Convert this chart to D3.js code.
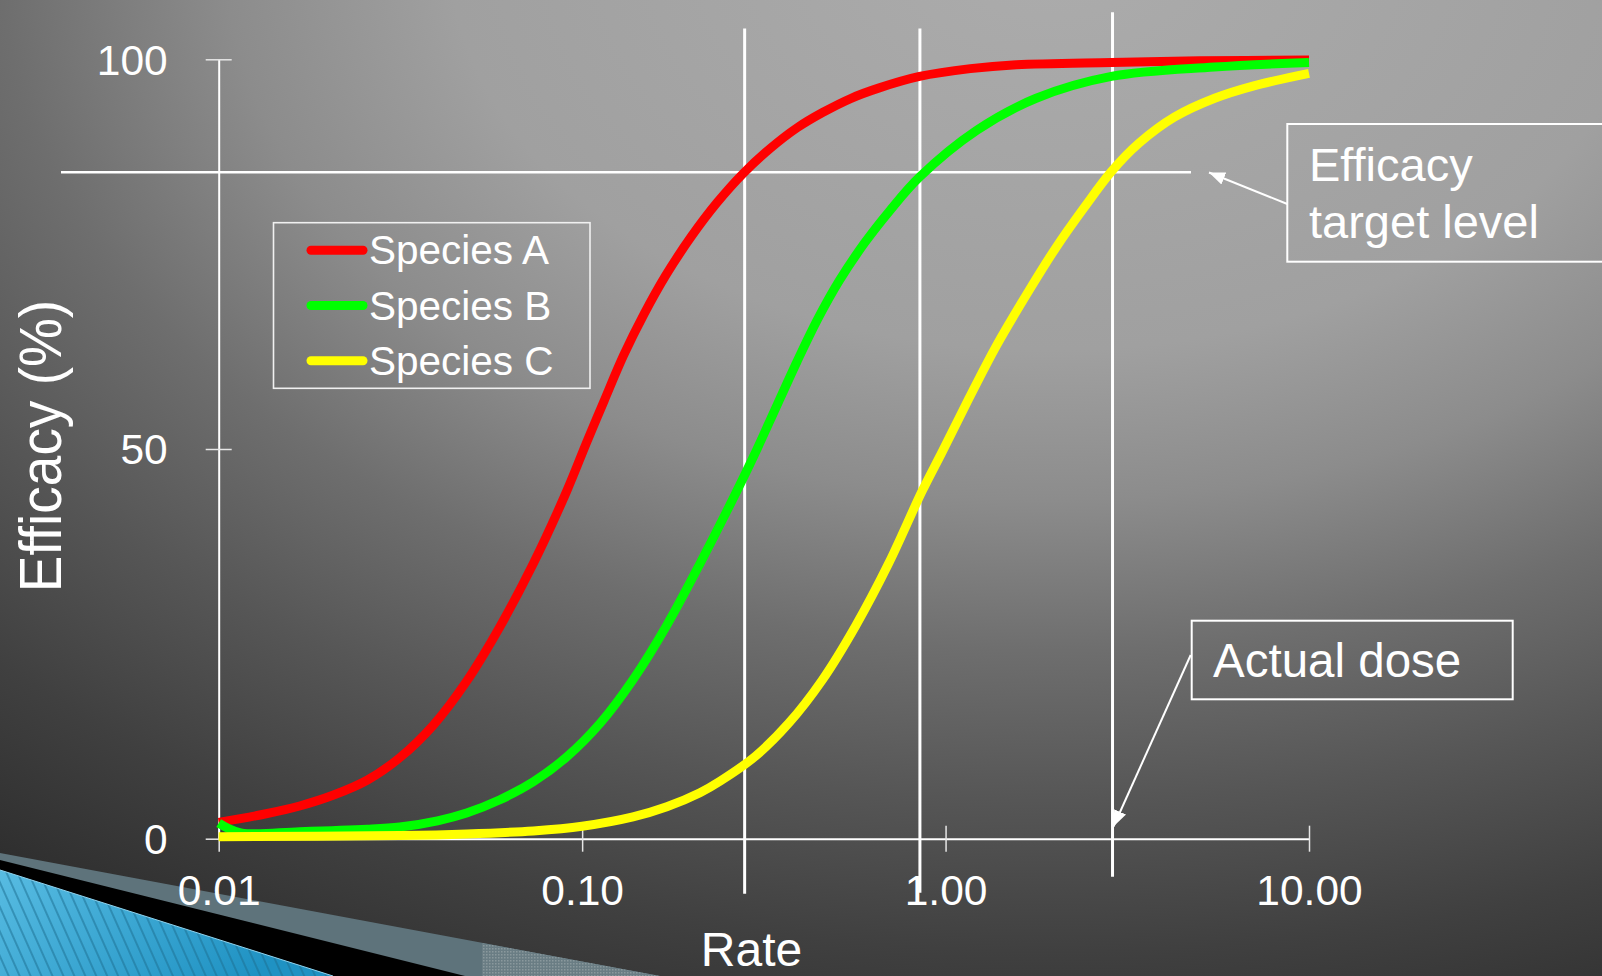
<!DOCTYPE html>
<html>
<head>
<meta charset="utf-8">
<script src="https://cdn.jsdelivr.net/npm/d3@7"></script>
<style>
  html, body { margin: 0; padding: 0; overflow: hidden; background: #333; }
  svg { display: block; }
</style>
</head>
<body>
<svg id="chart" width="1602" height="976"></svg>
<script>
// ---- data ----
const seriesNames = ["Species A", "Species B", "Species C"];
const seriesColors = ["#ff0000", "#00ff00", "#ffff00"];

const rateA = [0.01, 0.0135, 0.0167, 0.0207, 0.0256, 0.0315, 0.039, 0.0481, 0.0594, 0.0734, 0.0907, 0.103, 0.115, 0.13, 0.148, 0.17, 0.2, 0.235, 0.278, 0.33, 0.39, 0.46, 0.55, 0.654, 0.848, 1.17, 1.566, 2.86, 5, 10];
const effA  = [2.1, 3.2, 4.2, 5.6, 7.5, 10.4, 14.6, 20.2, 27.2, 35.3, 44.6, 50.9, 56.2, 62.0, 67.3, 72.3, 77.3, 81.6, 85.4, 88.6, 91.2, 93.2, 95.0, 96.3, 97.8, 98.8, 99.3, 99.6, 99.8, 99.9];

const rateB = [0.01, 0.0115, 0.0167, 0.0256, 0.0315, 0.04, 0.0481, 0.0594, 0.0734, 0.0907, 0.112, 0.138, 0.171, 0.211, 0.25, 0.296, 0.33, 0.39, 0.444, 0.51, 0.6, 0.7, 0.848, 1.219, 1.776, 2.86, 5.48, 10];
const effB  = [2.0, 0.75, 0.9, 1.2, 1.5, 2.3, 3.3, 5.0, 7.3, 10.5, 14.8, 20.4, 27.4, 35.3, 42.0, 49.0, 53.8, 61.2, 66.6, 71.6, 76.5, 80.5, 84.9, 90.9, 95.0, 97.8, 99.0, 99.6];

const rateC = [0.01, 0.0315, 0.0481, 0.0734, 0.1, 0.138, 0.171, 0.211, 0.24, 0.3, 0.37, 0.457, 0.564, 0.697, 0.862, 0.978, 1.16, 1.382, 1.7, 2.01, 2.4, 2.86, 3.4, 4.27, 5.5, 7.05, 10];
const effC  = [0.25, 0.4, 0.6, 1.0, 1.6, 2.8, 4.1, 5.9, 7.4, 10.6, 14.8, 20.3, 27.2, 35.3, 44.6, 49.6, 56.5, 63.3, 70.4, 75.8, 80.9, 85.6, 89.2, 92.6, 95.0, 96.6, 98.2];

const xTicks = [0.01, 0.1, 1, 10];
const xTickLabels = ["0.01", "0.10", "1.00", "10.00"];
const yTicks = [0, 50, 100];
const yTickLabels = ["0", "50", "100"];

const targetLevel = 85.5;          // efficacy target (%)
const targetRates = [0.28, 0.85];  // rates where A and B reach the target
const actualDose = 2.88;           // dose actually applied

const xTitle = "Rate";
const yTitle = "Efficacy (%)";
const targetNote = ["Efficacy", "target level"];
const doseNote = "Actual dose";

// ---- setup ----
const FONT = "'Liberation Sans', Arial, Helvetica, sans-serif";
const W = 1602, H = 976;
const svg = d3.select("#chart");
const defs = svg.append("defs");

const x = d3.scaleLog().domain([0.01, 10]).range([218.7, 1309]);
const y = d3.scaleLinear().domain([0, 100]).range([838.7, 59.3]);

// ---- slide background ----
const bg = defs.append("radialGradient")
  .attr("id", "bgGrad")
  .attr("gradientUnits", "userSpaceOnUse")
  .attr("cx", 1050).attr("cy", -50).attr("r", 1725)
  .attr("gradientTransform", "translate(1050,-50) scale(1,0.667) translate(-1050,50)");
[[0, 172], [0.348, 160], [0.478, 140], [0.609, 110], [0.739, 86], [0.87, 64], [1, 46]]
  .forEach(([o, v]) => bg.append("stop").attr("offset", o).attr("stop-color", d3.rgb(v, v, v)));
svg.append("rect").attr("width", W).attr("height", H).attr("fill", "url(#bgGrad)");

// corner ornament: slate band, black shadow, striped blue wedge
const blueGrad = defs.append("linearGradient").attr("id", "blueGrad")
  .attr("x1", 0).attr("y1", 0).attr("x2", 1).attr("y2", 0.4);
blueGrad.append("stop").attr("offset", 0).attr("stop-color", "#58bce2");
blueGrad.append("stop").attr("offset", 1).attr("stop-color", "#1f92c3");

const stripes = defs.append("pattern").attr("id", "stripes")
  .attr("patternUnits", "userSpaceOnUse").attr("width", 10).attr("height", 10)
  .attr("patternTransform", "rotate(-24)");
stripes.append("line").attr("x1", 1).attr("y1", 0).attr("x2", 1).attr("y2", 10)
  .attr("stroke", "#1d6f92").attr("stroke-width", 1.3).attr("stroke-opacity", 0.8);

const dots = defs.append("pattern").attr("id", "dots")
  .attr("patternUnits", "userSpaceOnUse").attr("width", 3).attr("height", 3);
dots.append("rect").attr("width", 3).attr("height", 3).attr("fill", "#6a7d84");
dots.append("rect").attr("width", 1.5).attr("height", 1.5).attr("fill", "#8a989d");

const deco = svg.append("g");
deco.append("polygon").attr("points", "0,853 660,976 0,976").attr("fill", "#5e737b");
deco.append("polygon").attr("points", "482,943 660,976 482,976").attr("fill", "url(#dots)");
deco.append("polygon").attr("points", "0,860 465,976 0,976").attr("fill", "#000");
deco.append("polygon").attr("points", "0,870 333,976 0,976").attr("fill", "url(#blueGrad)");
deco.append("polygon").attr("points", "0,870 333,976 0,976").attr("fill", "url(#stripes)");
deco.append("line").attr("x1", 0).attr("y1", 870).attr("x2", 333).attr("y2", 976)
  .attr("stroke", "#8fd3ee").attr("stroke-width", 1);

// ---- reference lines ----
const ref = svg.append("g").attr("stroke", "#fff");
ref.append("line")
  .attr("x1", 61).attr("x2", 1191)
  .attr("y1", y(targetLevel)).attr("y2", y(targetLevel))
  .attr("stroke-width", 2.6);
ref.selectAll("line.rate").data(targetRates).join("line").attr("class", "rate")
  .attr("x1", d => x(d)).attr("x2", d => x(d))
  .attr("y1", y(100) - 30.7).attr("y2", (d, i) => y(0) + (i === 0 ? 55 : 54))
  .attr("stroke-width", 3);
ref.append("line")
  .attr("x1", x(actualDose)).attr("x2", x(actualDose))
  .attr("y1", y(100) - 47).attr("y2", y(0) + 38)
  .attr("stroke-width", 3);

// ---- axes ----
const xAxis = d3.axisBottom(x).tickValues(xTicks)
  .tickFormat((d, i) => xTickLabels[i]).tickSizeInner(13).tickSizeOuter(0);
const gx = svg.append("g").attr("transform", `translate(0,${y(0)})`).call(xAxis);
gx.select(".domain").attr("stroke", "#fff").attr("stroke-width", 2);
gx.selectAll(".tick line").attr("stroke", "#e6e6e6").attr("stroke-width", 1.5).attr("y1", -13).attr("y2", 13);
gx.selectAll(".tick text").attr("fill", "#fff").attr("y", 66).attr("dy", 0)
  .attr("font-family", FONT).attr("font-size", 42.5);

const yAxis = d3.axisLeft(y).tickValues(yTicks)
  .tickFormat((d, i) => yTickLabels[i]).tickSizeInner(13).tickSizeOuter(0);
const gy = svg.append("g").attr("transform", `translate(${x(0.01)},0)`).call(yAxis);
gy.select(".domain").attr("stroke", "#fff").attr("stroke-width", 2);
gy.selectAll(".tick line").attr("stroke", "#e6e6e6").attr("stroke-width", 1.5).attr("x1", 13).attr("x2", -13);
gy.selectAll(".tick text").attr("fill", "#fff").attr("x", -51).attr("dy", "0.35em")
  .attr("font-family", FONT).attr("font-size", 42.5);

// ---- dose-response curves ----
const series = [
  { rates: rateA, values: effA },
  { rates: rateB, values: effB },
  { rates: rateC, values: effC }
];
const line = d3.line().x(d => x(d[0])).y(d => y(d[1])).curve(d3.curveCatmullRom.alpha(0.5));
svg.append("g").selectAll("path").data(series).join("path")
  .attr("d", s => line(s.rates.map((r, i) => [r, s.values[i]])))
  .attr("fill", "none")
  .attr("stroke", (s, i) => seriesColors[i])
  .attr("stroke-width", 9)
  .attr("stroke-linejoin", "miter")
  .attr("stroke-linecap", "butt");

// ---- legend ----
const legend = svg.append("g");
legend.append("rect").attr("x", 273.5).attr("y", 222.7).attr("width", 316.5).attr("height", 165.6)
  .attr("fill", "none").attr("stroke", "#f0f0f0").attr("stroke-width", 1.6);
const items = legend.selectAll("g.item").data(seriesNames).join("g").attr("class", "item")
  .attr("transform", (d, i) => `translate(0,${250.3 + i * 55.2})`);
items.append("line").attr("x1", 311).attr("x2", 363).attr("y1", 0).attr("y2", 0)
  .attr("stroke", (d, i) => seriesColors[i]).attr("stroke-width", 9).attr("stroke-linecap", "round");
items.append("text").attr("x", 369).attr("y", 0).attr("dy", "0.35em")
  .attr("fill", "#fff").attr("font-family", FONT).attr("font-size", 40.5).text(d => d);

// ---- annotations ----
defs.append("marker").attr("id", "arrow")
  .attr("markerUnits", "userSpaceOnUse").attr("markerWidth", 18).attr("markerHeight", 14)
  .attr("refX", 16).attr("refY", 6.5).attr("orient", "auto")
  .append("path").attr("d", "M0,0 L16,6.5 L0,13 Z").attr("fill", "#fff");

const note1 = svg.append("g");
note1.append("rect").attr("x", 1287.3).attr("y", 124).attr("width", 340).attr("height", 137.7)
  .attr("fill", "none").attr("stroke", "#fff").attr("stroke-width", 2);
note1.selectAll("text").data(targetNote).join("text")
  .attr("x", 1309).attr("y", (d, i) => 181 + i * 57)
  .attr("fill", "#fff").attr("font-family", FONT).attr("font-size", 47).text(d => d);
note1.append("line").attr("x1", 1287.3).attr("y1", 204).attr("x2", 1209).attr("y2", 172.5)
  .attr("stroke", "#fff").attr("stroke-width", 2).attr("marker-end", "url(#arrow)");

const note2 = svg.append("g");
note2.append("rect").attr("x", 1191.7).attr("y", 620.7).attr("width", 321).attr("height", 78.6)
  .attr("fill", "none").attr("stroke", "#fff").attr("stroke-width", 2);
note2.append("text").attr("x", 1213).attr("y", 677.3)
  .attr("fill", "#fff").attr("font-family", FONT).attr("font-size", 47.5).text(doseNote);
note2.append("line").attr("x1", 1190.7).attr("y1", 655).attr("x2", 1113.5).attr("y2", 826.5)
  .attr("stroke", "#fff").attr("stroke-width", 2).attr("marker-end", "url(#arrow)");

// ---- axis titles ----
svg.append("text").attr("x", 751.5).attr("y", 966).attr("text-anchor", "middle")
  .attr("fill", "#fff").attr("font-family", FONT).attr("font-size", 48).text(xTitle);
svg.append("text")
  .attr("transform", "translate(61,446) rotate(-90) scale(1,1.08)")
  .attr("text-anchor", "middle")
  .attr("fill", "#fff").attr("font-family", FONT).attr("font-size", 55).text(yTitle);
</script>
</body>
</html>
